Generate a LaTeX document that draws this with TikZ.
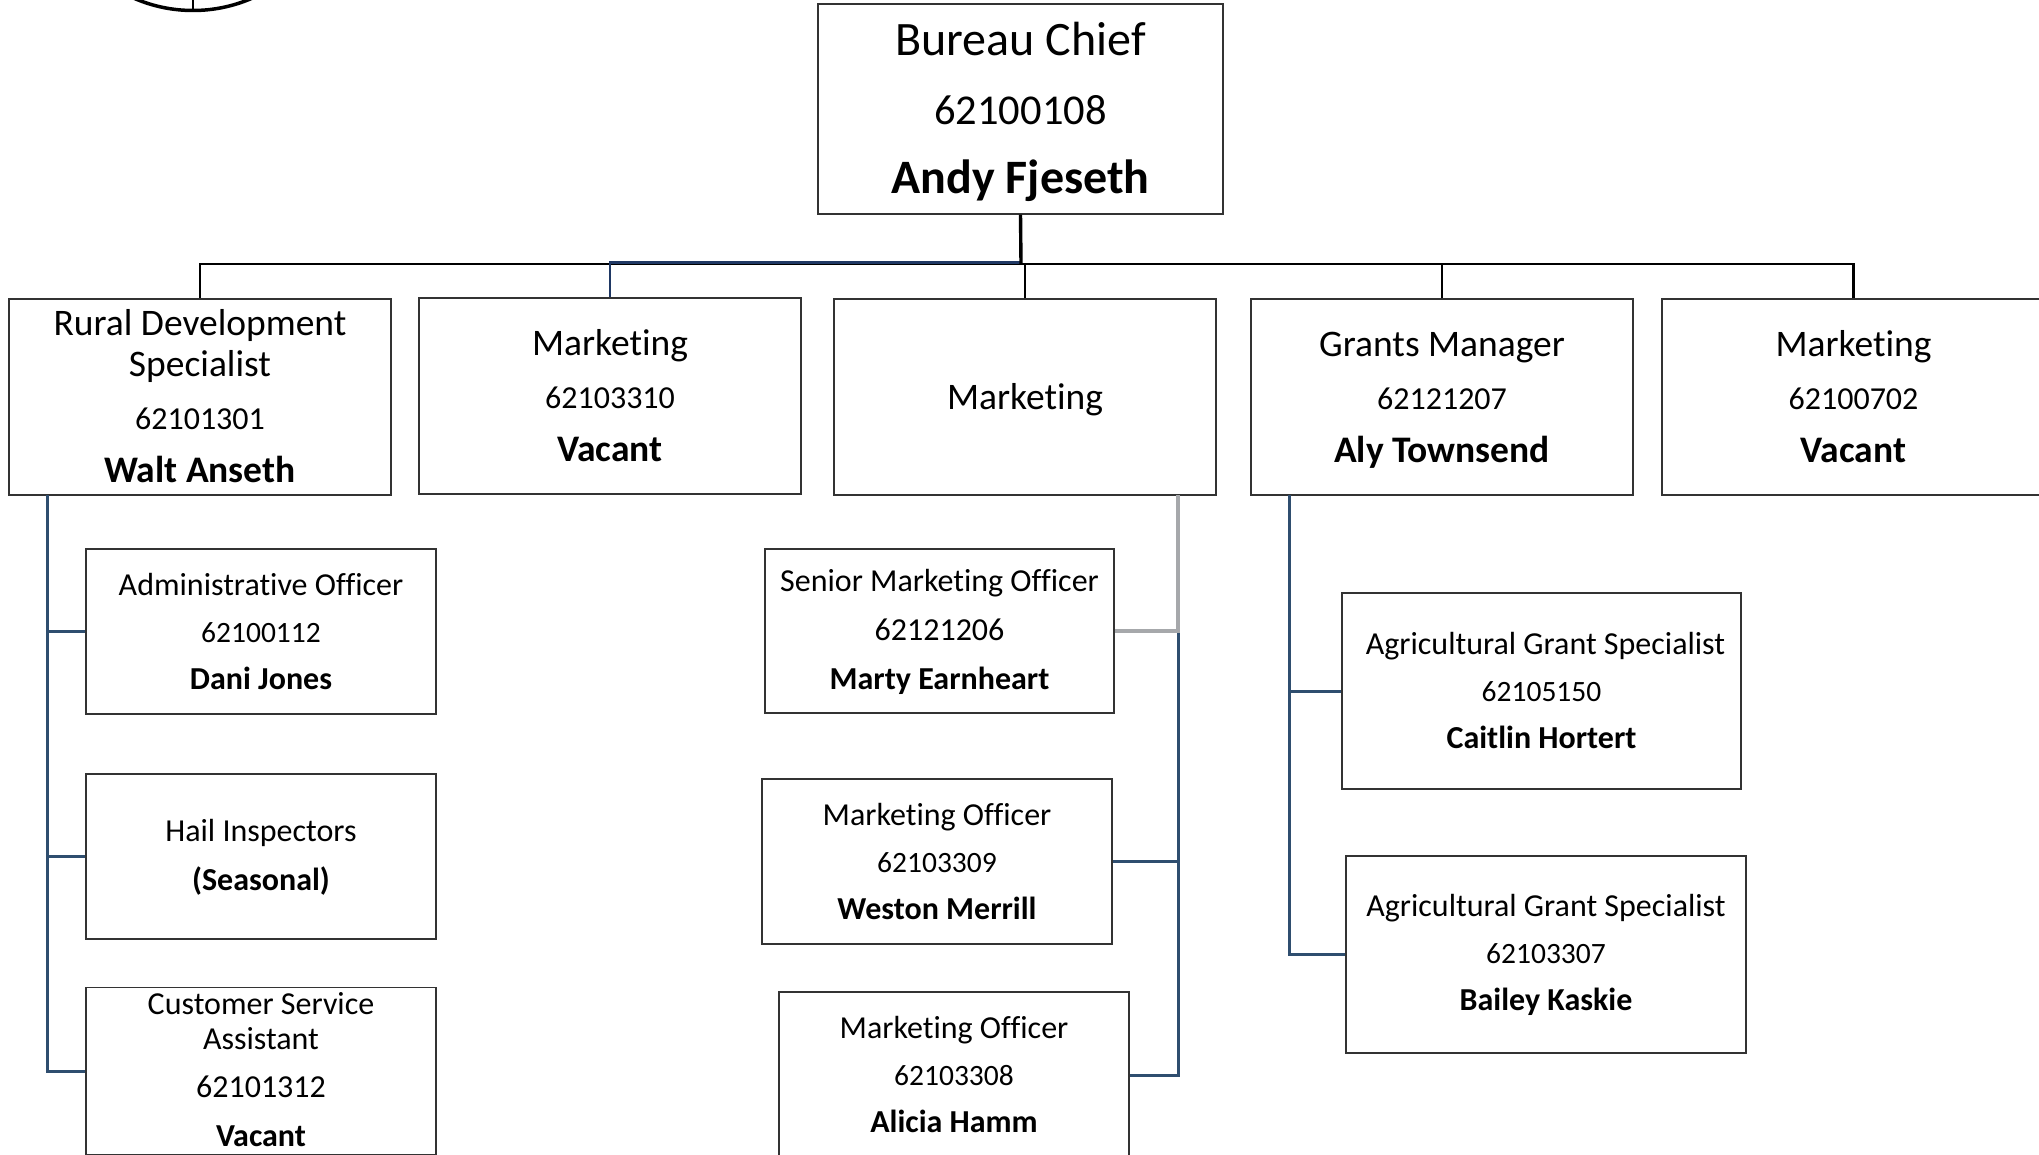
\documentclass[tikz,border=0pt]{standalone}
\usepackage{fontspec}
\setmainfont[Ligatures=NoCommon]{Carlito}
\definecolor{navy}{HTML}{2F4E6F}
\definecolor{navyd}{HTML}{1F3864}
\definecolor{greyl}{HTML}{A6A8AB}
\definecolor{boxl}{HTML}{333333}
\newcommand{\fs}[2]{\fontsize{#1}{#2}\selectfont}
\newcommand{\ssx}[1][1.16]{\rule[-.25em]{0pt}{#1em}}
\newcommand{\nm}[1]{{\bfseries #1\rule[-.25em]{0pt}{.8em}}}
\newcommand{\nn}[2]{{\fontsize{#1}{#1}\selectfont #2}}
\tikzset{
  box/.style={draw=boxl,line width=1.3pt,fill=white,inner sep=0pt,align=center,text=black},
  head/.style={box,font=\fs{48}{69}},
  mid/.style={box,font=\fs{37.5}{53}},
  midtight/.style={box,font=\fs{37.5}{41}},
  low/.style={box,font=\fs{32}{47}},
  lowwide/.style={box,font=\fs{32}{49}},
  lowtight/.style={box,font=\fs{32}{35}},
  bus/.style={draw=black,line width=3.4pt},
  thin bus/.style={draw=black,line width=2.8pt},
  navyline/.style={draw=navy,line width=3pt},
  greyline/.style={draw=greyl,line width=3.4pt},
}
\begin{document}
\begin{tikzpicture}[x=1pt,y=-1pt]
\useasboundingbox (0,0) rectangle (2039,1155);
% logo remnant
\begin{scope}
\clip (0,0) rectangle (2039,1155);
\draw[line width=3.5pt] (193,-137) circle[radius=147.5];
\draw[line width=1.4pt] (193,0) -- (193,10);
\end{scope}
\newcommand{\boxat}[7]{\node[#1,minimum width=#4-#3,minimum height=#6-#5] (#2) at ({(#3+#4)/2},{(#5+#6)/2}) {#7};}
\boxat{head}{chief}{818}{1223}{4}{214}{\ssx[1.16]Bureau Chief\\\nn{42.5}{62100108}\\\nm{Andy Fjeseth}}
\boxat{midtight}{rds}{9}{391}{299}{495}{\ssx[1.16]Rural Development\\Specialist\\[12pt]\nn{32}{62101301}\\[12pt]\nm{Walt Anseth}}
\boxat{mid}{mktA}{419}{801}{298}{494}{\ssx Marketing\\\nn{32}{62103310}\\\nm{Vacant}}
\boxat{mid}{mktB}{834}{1216}{299}{495}{\ssx Marketing\rule[-.25em]{0pt}{0pt}}
\boxat{mid}{grants}{1251}{1633}{299}{495}{\ssx Grants Manager\\\nn{32}{62121207}\\\nm{Aly Townsend}}
\boxat{mid}{mktC}{1662}{2045}{299}{495}{\ssx Marketing\\\nn{32}{62100702}\\\nm{Vacant}}
\boxat{low}{admin}{86}{436}{549}{714}{\ssx Administrative Officer\\\nn{29.5}{62100112}\\\nm{Dani Jones}}
\boxat{lowwide}{hail}{86}{436}{774}{939}{\ssx[1.08]Hail Inspectors\\\nm{(Seasonal)}}
\boxat{lowtight}{csa}{86}{436}{988}{1154}{\ssx[1.1]Customer Service\\Assistant\\[13pt]62101312\\[14pt]\nm{Vacant}}
\boxat{lowwide}{senior}{765}{1114}{549}{713}{\ssx[1.08]Senior Marketing Officer\\62121206\\\nm{Marty Earnheart}}
\boxat{low}{weston}{762}{1112}{779}{944}{\ssx Marketing Officer\\\nn{29.5}{62103309}\\\nm{Weston Merrill}}
\boxat{low}{alicia}{779}{1129}{992}{1158}{\ssx Marketing Officer\\\nn{29.5}{62103308}\\\nm{Alicia Hamm}}
\boxat{low}{agriA}{1342}{1741}{593}{789}{\ssx\hspace*{8pt}Agricultural Grant Specialist\\\nn{29.5}{62105150}\\\nm{Caitlin Hortert}}
\boxat{low}{agriB}{1346}{1746}{856}{1053}{\ssx[1.08]Agricultural Grant Specialist\\\nn{29.5}{62103307}\\\nm{Bailey Kaskie}}
% free ends
\coordinate (busc) at (1021,264);
\coordinate (trunkL) at (47,495);
\coordinate (trunkM) at (1178,495);
\coordinate (splitM) at (1178,631);
\coordinate (trunkR) at (1289,495);
% top bus
\draw[thin bus] (rds.north) |- (busc);
\draw[navyd,line width=2.4pt] (mktA.north) |- ([yshift=1.5pt]busc);
\draw[thin bus] (mktB.north) |- (busc);
\draw[thin bus] (grants.north) |- (busc);
\draw[thin bus] (mktC.north) |- (busc);
\draw[bus] (chief.south) -- (busc);
% left trunk
\draw[navyline] (trunkL) |- (csa.west);
\draw[navyline] (trunkL |- admin.west) -- (admin.west);
\draw[navyline] (trunkL |- hail.west) -- (hail.west);
% middle trunk
\draw[navyline] (splitM) |- (alicia.east);
\draw[navyline] (splitM |- weston.east) -- (weston.east);
\draw[greyline] (trunkM) -- (splitM) -- (senior.east |- splitM);
% right trunk
\draw[navyline] (trunkR) |- (agriB.west);
\draw[navyline] (trunkR |- agriA.west) -- (agriA.west);
\end{tikzpicture}
\end{document}
